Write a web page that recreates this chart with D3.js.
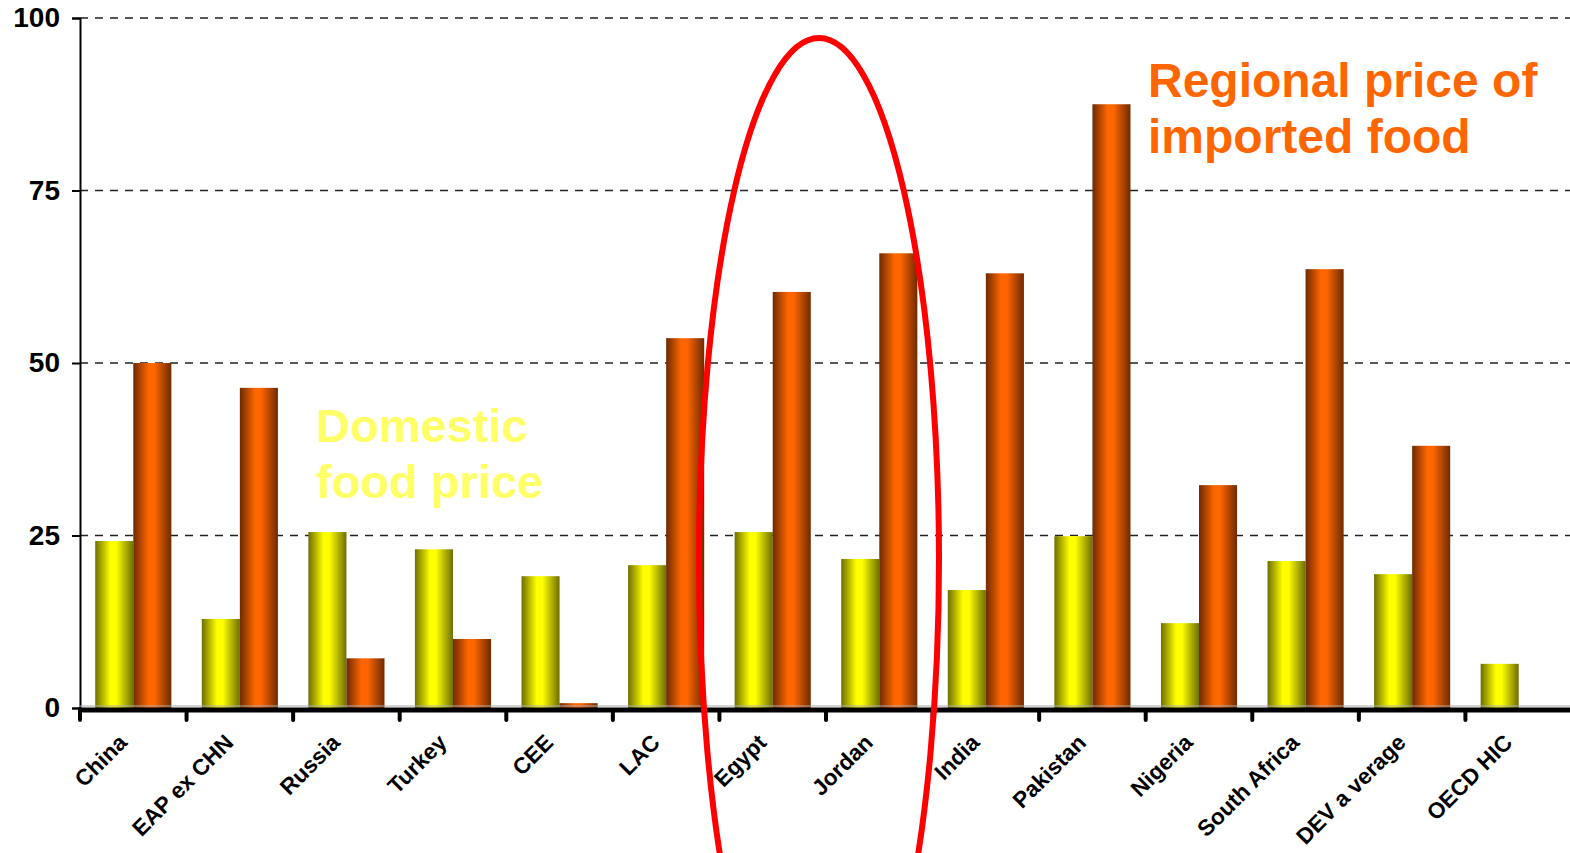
<!DOCTYPE html>
<html>
<head>
<meta charset="utf-8">
<script src="https://cdn.jsdelivr.net/npm/d3@7"></script>
<style>
  body { margin: 0; background: #fff; }
  svg { display: block; font-family: "Liberation Sans", Arial, sans-serif; }
</style>
</head>
<body>
<script>
const categories = ["China", "EAP ex CHN", "Russia", "Turkey", "CEE", "LAC", "Egypt",
  "Jordan", "India", "Pakistan", "Nigeria", "South Africa", "DEV a verage", "OECD HIC"];
const domesticPrice = [24.2, 12.9, 25.5, 23.0, 19.1, 20.7, 25.5, 21.6, 17.1, 24.9, 12.3, 21.3, 19.4, 6.4];
const importedPrice = [50.0, 46.4, 7.2, 10.0, 0.7, 53.6, 60.3, 65.9, 63.0, 87.5, 32.3, 63.6, 38.0, 0];
const yTicks = [0, 25, 50, 75, 100];

const width = 1570;
const height = 853;

const svg = d3.select("body").append("svg")
  .attr("width", width)
  .attr("height", height);

// gradients for the cylinder look
const defs = svg.append("defs");
function addGradient(id, dark, light) {
  const g = defs.append("linearGradient").attr("id", id)
    .attr("x1", "0%").attr("x2", "100%").attr("y1", "0%").attr("y2", "0%");
  g.append("stop").attr("offset", "0%").attr("stop-color", dark);
  g.append("stop").attr("offset", "40%").attr("stop-color", light);
  g.append("stop").attr("offset", "55%").attr("stop-color", light);
  g.append("stop").attr("offset", "100%").attr("stop-color", dark);
}
addGradient("gradYellow", "#6e6e00", "#ffff00");
addGradient("gradOrange", "#6e2a00", "#ff6600");

const x = d3.scaleBand()
  .domain(categories)
  .range([80, 1572])
  .padding(0);

const x1 = d3.scaleBand()
  .domain(["dom", "imp"])
  .range([0, x.bandwidth()])
  .paddingInner(0)
  .paddingOuter(0.4);

const y = d3.scaleLinear()
  .domain([0, 100])
  .range([708, 18]);

// dashed grid
svg.append("g")
  .selectAll("line")
  .data(yTicks.filter((d) => d > 0))
  .enter()
  .append("line")
  .attr("x1", 80)
  .attr("x2", 1570)
  .attr("y1", (d) => y(d))
  .attr("y2", (d) => y(d))
  .attr("stroke", "#222")
  .attr("stroke-width", 1.3)
  .attr("stroke-dasharray", "8,7");

// y axis
const yAxis = d3.axisLeft(y)
  .tickValues(yTicks)
  .tickSize(8)
  .tickPadding(12);

const gy = svg.append("g")
  .attr("transform", "translate(80,0)")
  .call(yAxis);
gy.select(".domain").attr("stroke", "#000").attr("stroke-width", 2);
gy.selectAll(".tick line").attr("stroke", "#000").attr("stroke-width", 2);
gy.selectAll(".tick text")
  .attr("font-size", 28)
  .attr("font-weight", "bold")
  .attr("fill", "#000")
  .attr("font-family", "Liberation Sans, Arial, sans-serif");

// bars
const groups = svg.append("g")
  .selectAll("g")
  .data(categories)
  .enter()
  .append("g")
  .attr("transform", (d) => `translate(${x(d)},0)`);

groups.append("rect")
  .attr("x", x1("dom"))
  .attr("width", x1.bandwidth())
  .attr("y", (d, i) => y(domesticPrice[i]))
  .attr("height", (d, i) => y(0) - y(domesticPrice[i]))
  .attr("fill", "url(#gradYellow)");

groups.append("rect")
  .attr("x", x1("imp"))
  .attr("width", x1.bandwidth())
  .attr("y", (d, i) => y(importedPrice[i]))
  .attr("height", (d, i) => y(0) - y(importedPrice[i]))
  .attr("fill", "url(#gradOrange)");

// x axis: thick base line with ticks at category boundaries
svg.append("line")
  .attr("x1", 80).attr("x2", 1570)
  .attr("y1", y(0) - 2).attr("y2", y(0) - 2)
  .attr("stroke", "#aaa").attr("stroke-width", 1);

svg.append("line")
  .attr("x1", 78).attr("x2", 1570)
  .attr("y1", y(0) + 2).attr("y2", y(0) + 2)
  .attr("stroke", "#000").attr("stroke-width", 5);

svg.append("g")
  .selectAll("line")
  .data(categories)
  .enter()
  .append("line")
  .attr("x1", (d) => x(d))
  .attr("x2", (d) => x(d))
  .attr("y1", y(0) + 2)
  .attr("y2", y(0) + 12)
  .attr("stroke", "#000")
  .attr("stroke-width", 4)
  .attr("stroke-linecap", "round");

// category labels
svg.append("g")
  .selectAll("text")
  .data(categories)
  .enter()
  .append("text")
  .attr("transform", (d) => `translate(${x(d) + x.bandwidth() / 2 - 5},${y(0) + 36}) rotate(-45)`)
  .attr("text-anchor", "end")
  .attr("font-size", 22.5)
  .attr("font-weight", "bold")
  .attr("fill", "#000")
  .text((d) => d);

// annotations
const noteOrange = svg.append("text")
  .attr("font-size", 48)
  .attr("font-weight", "bold")
  .attr("fill", "#ff6600");
noteOrange.append("tspan").attr("x", 1148).attr("y", 97).text("Regional price of");
noteOrange.append("tspan").attr("x", 1148).attr("y", 153).text("imported food");

const noteYellow = svg.append("text")
  .attr("font-size", 47)
  .attr("font-weight", "bold")
  .attr("fill", "#ffff66");
noteYellow.append("tspan").attr("x", 316).attr("y", 442).text("Domestic");
noteYellow.append("tspan").attr("x", 316).attr("y", 498).text("food price");

// highlight ellipse around Egypt / Jordan
svg.append("ellipse")
  .attr("cx", (x("Egypt") + x("Jordan") + x.bandwidth()) / 2 - 7)
  .attr("cy", 560)
  .attr("rx", 120)
  .attr("ry", 522)
  .attr("fill", "none")
  .attr("stroke", "#ff0000")
  .attr("stroke-width", 6);
</script>
</body>
</html>
